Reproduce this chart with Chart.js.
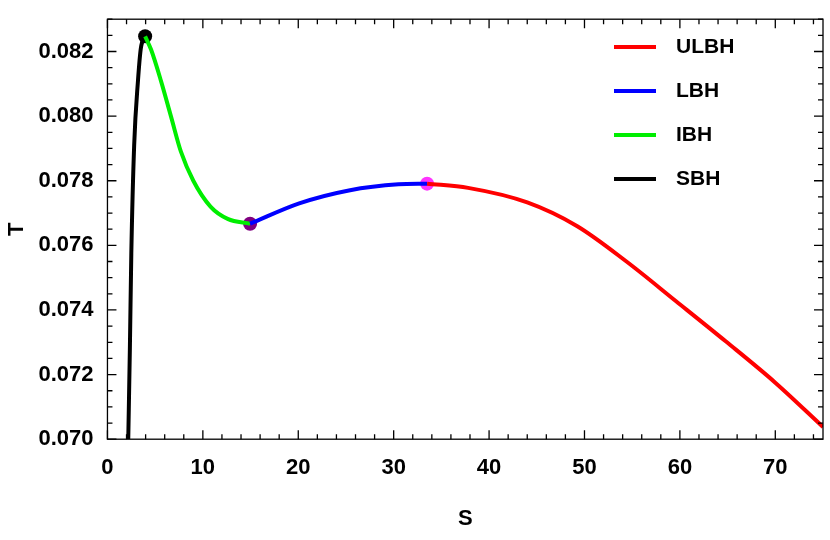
<!DOCTYPE html>
<html>
<head>
<meta charset="utf-8">
<script src="https://cdn.jsdelivr.net/npm/chart.js@4/dist/chart.umd.min.js"></script>
<style>
  body { margin: 0; background: #fff; }
  #wrap { width: 830px; height: 540px; }
</style>
</head>
<body>
<div id="wrap"><canvas id="c"></canvas></div>
<script>
// branch data (S, T)
const sbhS = [2.18, 2.35, 2.5, 2.8, 3.2, 3.5, 3.95];
const sbhT = [0.0700, 0.0728, 0.07574, 0.0791, 0.0811, 0.0821, 0.08247];
const ibhS = [3.95, 4.57, 5.6, 6.65, 7.7, 9.0, 10.8, 12.6, 14.95];
const ibhT = [0.08247, 0.08206, 0.0811, 0.0800, 0.0789, 0.0780, 0.0772, 0.07682, 0.07667];
const lbhS = [14.95, 20.1, 25.3, 30.5, 33.5];
const lbhT = [0.07667, 0.0773, 0.0777, 0.07789, 0.07791];
const ulbhS = [33.5, 37.8, 44.0, 49.2, 54.4, 59.6, 64.8, 70.0, 75];
const ulbhT = [0.07791, 0.07778, 0.07733, 0.0766, 0.0755, 0.07427, 0.07303, 0.07175, 0.07038];
const dotS = [3.95, 14.95, 33.5];
const dotT = [0.08247, 0.07667, 0.07791];
const dotColors = ['#000000', '#800080', '#ff33ff'];

const FONT = 'Liberation Sans, Arial, sans-serif';
const pts = (xs, ys) => xs.map((x, i) => ({ x, y: ys[i] }));
const line = (label, xs, ys, color) => ({
  label, data: pts(xs, ys), borderColor: color, borderWidth: 4,
  showLine: true, pointRadius: 0, tension: 0.4, cubicInterpolationMode: 'monotone'
});

const frameTicks = {
  id: 'frameTicks',
  afterDraw(chart) {
    const { ctx, chartArea: a, scales: { x, y } } = chart;
    ctx.save();
    ctx.strokeStyle = '#000';
    ctx.lineWidth = 1.3;
    ctx.strokeRect(a.left, a.top, a.right - a.left, a.bottom - a.top);
    ctx.beginPath();
    for (let v = 0; v <= 75; v += 2) {
      const px = x.getPixelForValue(v);
      const len = v % 10 === 0 ? 9 : 5;
      ctx.moveTo(px, a.bottom); ctx.lineTo(px, a.bottom - len);
      ctx.moveTo(px, a.top); ctx.lineTo(px, a.top + len);
    }
    for (let k = 0; k <= 26; k++) {
      const v = 0.070 + k * 0.0005;
      const py = y.getPixelForValue(v);
      const len = k % 4 === 0 ? 9 : 5;
      ctx.moveTo(a.left, py); ctx.lineTo(a.left + len, py);
      ctx.moveTo(a.right, py); ctx.lineTo(a.right - len, py);
    }
    ctx.stroke();
    // legend
    const items = chart.data.datasets.slice(0, 4);
    ctx.font = 'bold 21px ' + FONT;
    ctx.textBaseline = 'middle';
    items.forEach((d, i) => {
      const yy = 47 + i * 44;
      ctx.strokeStyle = d.borderColor;
      ctx.lineWidth = 4;
      ctx.beginPath(); ctx.moveTo(614, yy); ctx.lineTo(656, yy); ctx.stroke();
      ctx.fillStyle = '#000';
      ctx.fillText(d.label, 676, yy);
    });
    ctx.restore();
  }
};

const tickFont = { family: FONT, size: 22, weight: 'bold' };

new Chart(document.getElementById('c'), {
  type: 'scatter',
  data: {
    datasets: [
      line('ULBH', ulbhS, ulbhT, '#ff0000'),
      line('LBH', lbhS, lbhT, '#0000ff'),
      line('IBH', ibhS, ibhT, '#00ee00'),
      line('SBH', sbhS, sbhT, '#000000'),
      { label: 'dots', data: pts(dotS, dotT), pointRadius: 7, pointBackgroundColor: dotColors, pointBorderWidth: 0 }
    ]
  },
  options: {
    responsive: true, maintainAspectRatio: false, animation: false,
    layout: { padding: { top: 0, right: 2, bottom: 4 } },
    plugins: { legend: { display: false }, tooltip: { enabled: false } },
    scales: {
      x: {
        min: 0, max: 75,
        afterBuildTicks: s => { s.ticks = [0, 10, 20, 30, 40, 50, 60, 70].map(v => ({ value: v })); },
        ticks: { color: '#000', font: tickFont, padding: 8, maxRotation: 0 },
        grid: { display: false },
        border: { display: false },
        title: { display: true, text: 'S', color: '#000', font: tickFont, padding: { top: 16 } }
      },
      y: {
        min: 0.070, max: 0.0830,
        afterBuildTicks: s => { s.ticks = [0.070, 0.072, 0.074, 0.076, 0.078, 0.080, 0.082].map(v => ({ value: v })); },
        ticks: { color: '#000', font: tickFont, callback: v => v.toFixed(3), padding: 6 },
        grid: { display: false },
        border: { display: false },
        title: { display: true, text: 'T', color: '#000', font: tickFont, padding: { bottom: 2 } }
      }
    }
  },
  plugins: [frameTicks]
});
</script>
</body>
</html>
